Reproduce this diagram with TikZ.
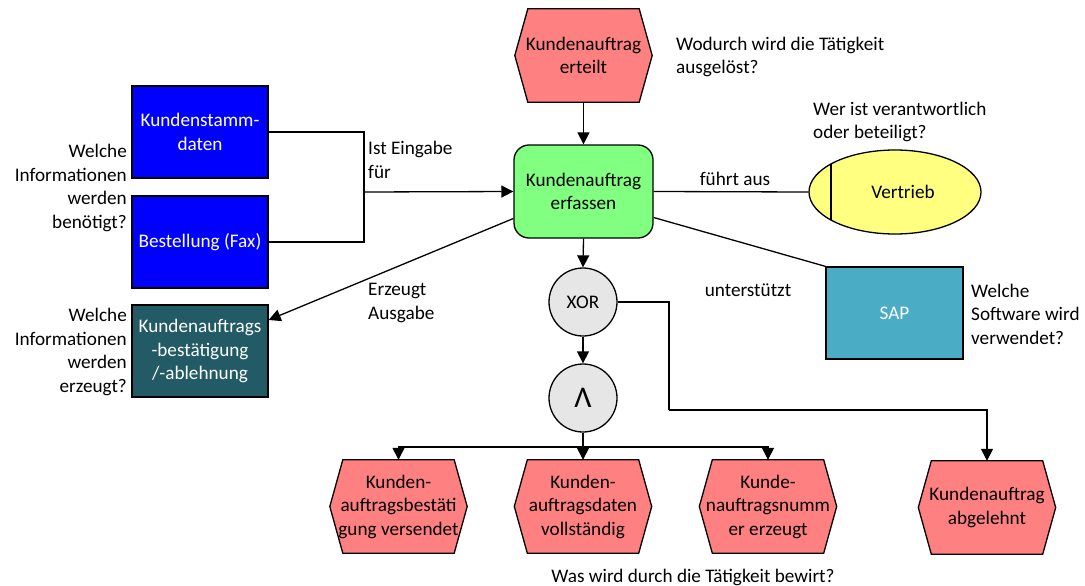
\documentclass[tikz,border=0pt]{standalone}
\usepackage{fontspec}
\setmainfont{Carlito}
\usetikzlibrary{arrows.meta,shapes.geometric,backgrounds}

\definecolor{evtred}{HTML}{FF8080}
\definecolor{fungreen}{HTML}{80FF80}
\definecolor{orgyellow}{HTML}{FFFF80}
\definecolor{infoblue}{HTML}{0000FF}
\definecolor{outteal}{HTML}{225A66}
\definecolor{sysblue}{HTML}{4BACC6}
\definecolor{gategray}{HTML}{E6E6E6}

\tikzset{
  base/.style={font=\fontsize{19.2}{23.5}\selectfont, align=center, inner sep=0pt},
  evtxt/.style={base, minimum width=137pt, minimum height=93pt},
  evtshape/.style={draw, fill=evtred, line width=1.3pt},
  funbox/.style={base, draw, fill=fungreen, line width=1.3pt, rounded corners=15pt,
    minimum width=139pt, minimum height=93pt},
  infobox/.style={base, draw, fill=infoblue, text=white, line width=1.3pt,
    minimum width=136pt, minimum height=92pt},
  outbox/.style={infobox, fill=outteal},
  sysbox/.style={infobox, fill=sysblue, minimum width=137pt},
  orgunit/.style={base, draw, fill=orgyellow, ellipse, line width=1.3pt,
    minimum width=172pt, minimum height=84pt},
  gate/.style={base, draw, fill=gategray, circle, line width=1.3pt, minimum size=68pt},
  note/.style={base},
  link/.style={line width=1.3pt},
  arr/.style={link, -{Triangle[length=12pt,width=12pt]}},
}

% event: hexagon drawn behind a text node
\newcommand\eventnode[3]{%
  \node[evtxt] (#1) at (#2) {#3};
  \begin{pgfonlayer}{background}
    \draw[evtshape] ([xshift=13pt]#1.north west) -- ([xshift=-13pt]#1.north east)
      -- (#1.east) -- ([xshift=-13pt]#1.south east) -- ([xshift=13pt]#1.south west)
      -- (#1.west) -- cycle;
  \end{pgfonlayer}
}

\begin{document}
\begin{tikzpicture}[x=1pt, y=-1pt]
  \useasboundingbox (0,0) rectangle (1085,586);

  % events
  \eventnode{start}{583.5,55.5}{Kundenauftrag\\erteilt}
  \eventnode{ev1}{398.5,506.5}{Kunden-\\auftragsbestäti\\gung versendet}
  \eventnode{ev2}{583,506.5}{Kunden-\\auftragsdaten\\vollständig}
  \eventnode{ev3}{768,506.5}{Kunde-\\nauftragsnumm\\er erzeugt}
  \eventnode{ev4}{987,507.5}{Kundenauftrag\\abgelehnt}

  % function
  \node[funbox] (fun) at (583.5,191.5) {Kundenauftrag\\erfassen};

  % gates
  \node[gate] (xor) at (583,302) {XOR};
  \node[gate, font=\fontsize{30}{30}\selectfont\addfontfeatures{FakeBold=-0.3}] (and) at (583,398) {Λ};

  % information objects
  \node[infobox] (stamm) at (200,132) {Kundenstamm-\\daten};
  \node[infobox] (fax) at (200,242) {Bestellung (Fax)};
  \node[outbox] (outp) at (200,351) {Kundenauftrags\\-bestätigung\\/-ablehnung};

  % organisational unit and system
  \node[orgunit] (org) at (895,192) {\hspace*{16pt}Vertrieb};
  \draw[link] ([shift={(-64,-28)}]org.center) -- ([shift={(-64,28)}]org.center);
  \node[sysbox] (sap) at (894.5,313) {SAP};

  % notes
  \node[note, anchor=west, align=left] (q1) at (676,57) {Wodurch wird die Tätigkeit\\ausgelöst?};
  \node[note, anchor=west, align=left] (q2) at (813,122) {Wer ist verantwortlich\\oder beteiligt?};
  \node[note] (l1) at (735,179) {führt aus};
  \node[note] (l2) at (748,290) {unterstützt};
  \node[note, anchor=west, align=left] (q3) at (971,314) {Welche\\Software wird\\verwendet?};
  \node[note, anchor=west, align=left] (l3) at (368,160) {Ist Eingabe\\für};
  \node[note, anchor=east, align=right] (q4) at (127,188) {Welche\\Informationen\\werden\\benötigt?};
  \node[note, anchor=west, align=left] (l4) at (368,303) {Erzeugt\\Ausgabe};
  \node[note, anchor=east, align=right] (q5) at (127,352) {Welche\\Informationen\\werden\\erzeugt?};
  \node[note] (q6) at (693,577) {Was wird durch die Tätigkeit bewirt?};

  % control flow
  \draw[arr] (start.south) -- (fun.north);
  \draw[arr] (fun.south) -- (xor.north);
  \draw[arr] (xor.south) -- (and.north);
  \coordinate (split) at (583,447);
  \draw[link] (and.south) -- (split);
  \draw[arr] (split) -| (ev1.north);
  \draw[arr] (split) -| (ev3.north);
  \draw[arr] (split) -- (ev2.north);
  \coordinate (reject) at (669,410);
  \draw[link] (xor.east) -| (reject);
  \draw[arr] (reject) -| (ev4.north);

  % input data
  \coordinate (join) at (364,192);
  \draw[link] (stamm.east) -| (join);
  \draw[link] (fax.east) -| (join);
  \draw[arr] (join) -- (fun.west);

  % output, organisation, system
  \draw[arr] ([yshift=-27pt]fun.west) -- ([yshift=31pt]outp.east);
  \draw[link] (fun.east) -- (org.west);
  \draw[link] ([yshift=-26pt]fun.east) -- (sap.north west);
\end{tikzpicture}
\end{document}
